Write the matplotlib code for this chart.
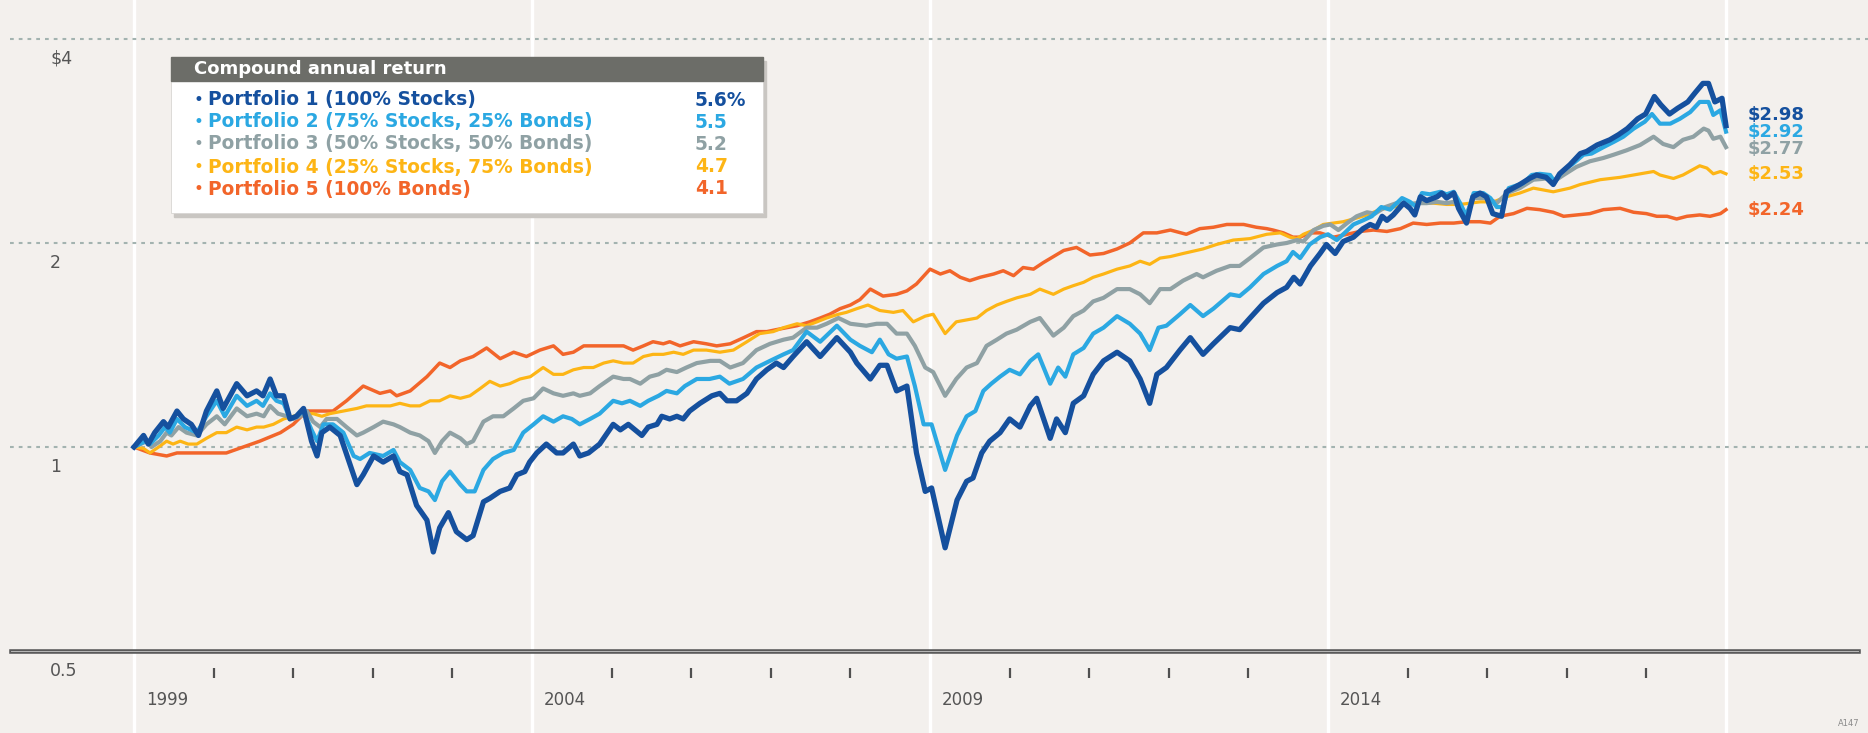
import matplotlib
matplotlib.use("Agg")
import matplotlib.pyplot as plt
from matplotlib.patches import Rectangle

# valores (crescimento de $1, fim de 1998 = 1.00)
p1_years = [1999.00, 1999.12, 1999.18, 1999.26, 1999.37, 1999.43, 1999.54, 1999.62, 1999.72, 1999.81,
            1999.91, 2000.04, 2000.12, 2000.29, 2000.42, 2000.54, 2000.62, 2000.71, 2000.79, 2000.88,
            2000.96, 2001.04, 2001.13, 2001.23, 2001.30, 2001.36, 2001.46, 2001.59, 2001.69, 2001.80,
            2001.88, 2002.01, 2002.13, 2002.26, 2002.34, 2002.43, 2002.55, 2002.68, 2002.76, 2002.84,
            2002.95, 2003.05, 2003.18, 2003.26, 2003.39, 2003.47, 2003.60, 2003.72, 2003.81, 2003.91,
            2003.97, 2004.06, 2004.18, 2004.31, 2004.39, 2004.52, 2004.60, 2004.71, 2004.85, 2005.02,
            2005.11, 2005.21, 2005.38, 2005.46, 2005.57, 2005.63, 2005.73, 2005.82, 2005.90, 2005.98,
            2006.11, 2006.26, 2006.36, 2006.45, 2006.57, 2006.70, 2006.82, 2006.95, 2007.07, 2007.16,
            2007.28, 2007.45, 2007.62, 2007.83, 2008.00, 2008.08, 2008.25, 2008.37, 2008.46, 2008.58,
            2008.71, 2008.83, 2008.94, 2009.02, 2009.19, 2009.34, 2009.46, 2009.54, 2009.65, 2009.75,
            2009.88, 2010.00, 2010.13, 2010.26, 2010.34, 2010.51, 2010.59, 2010.70, 2010.80, 2010.93,
            2011.05, 2011.18, 2011.35, 2011.51, 2011.64, 2011.76, 2011.85, 2011.97, 2012.14, 2012.27,
            2012.43, 2012.56, 2012.77, 2012.89, 2013.02, 2013.19, 2013.36, 2013.48, 2013.57, 2013.65,
            2013.78, 2013.90, 2013.98, 2014.09, 2014.19, 2014.32, 2014.44, 2014.53, 2014.61, 2014.68,
            2014.74, 2014.82, 2014.95, 2015.03, 2015.09, 2015.16, 2015.24, 2015.37, 2015.43, 2015.49,
            2015.58, 2015.64, 2015.74, 2015.82, 2015.91, 2015.99, 2016.07, 2016.18, 2016.24, 2016.41,
            2016.53, 2016.62, 2016.74, 2016.83, 2016.91, 2017.04, 2017.17, 2017.25, 2017.38, 2017.54,
            2017.65, 2017.76, 2017.89, 2017.99, 2018.10, 2018.18, 2018.29, 2018.39, 2018.52, 2018.61,
            2018.71, 2018.78, 2018.86, 2018.95, 2019.00]
p1_values = [1.00, 1.04, 1.01, 1.05, 1.09, 1.07, 1.13, 1.10, 1.08, 1.04,
             1.13, 1.21, 1.14, 1.24, 1.19, 1.21, 1.19, 1.26, 1.19, 1.19,
             1.10, 1.11, 1.14, 1.02, 0.97, 1.05, 1.07, 1.04, 0.96, 0.88,
             0.91, 0.97, 0.95, 0.97, 0.92, 0.91, 0.82, 0.78, 0.70, 0.76,
             0.80, 0.75, 0.73, 0.74, 0.83, 0.84, 0.86, 0.87, 0.91, 0.92,
             0.95, 0.98, 1.01, 0.98, 0.98, 1.01, 0.97, 0.98, 1.01, 1.08,
             1.06, 1.08, 1.04, 1.07, 1.08, 1.11, 1.10, 1.11, 1.10, 1.13,
             1.16, 1.19, 1.20, 1.17, 1.17, 1.20, 1.26, 1.30, 1.33, 1.31,
             1.36, 1.43, 1.36, 1.45, 1.38, 1.33, 1.26, 1.32, 1.32, 1.21,
             1.23, 0.98, 0.86, 0.87, 0.71, 0.835, 0.89, 0.90, 0.98, 1.02,
             1.05, 1.10, 1.07, 1.15, 1.18, 1.03, 1.10, 1.05, 1.16, 1.19,
             1.28, 1.34, 1.38, 1.34, 1.26, 1.16, 1.28, 1.31, 1.39, 1.45,
             1.37, 1.42, 1.50, 1.49, 1.55, 1.63, 1.69, 1.72, 1.78, 1.74,
             1.85, 1.93, 1.99, 1.93, 2.01, 2.04, 2.10, 2.13, 2.11, 2.19,
             2.16, 2.20, 2.29, 2.25, 2.20, 2.34, 2.31, 2.34, 2.37, 2.33,
             2.37, 2.25, 2.14, 2.34, 2.37, 2.34, 2.21, 2.19, 2.38, 2.44,
             2.49, 2.52, 2.50, 2.44, 2.53, 2.61, 2.71, 2.73, 2.79, 2.84,
             2.89, 2.95, 3.05, 3.10, 3.29, 3.20, 3.10, 3.16, 3.23, 3.33,
             3.44, 3.44, 3.23, 3.27, 2.98]

p2_years = [1999.00, 1999.14, 1999.20, 1999.31, 1999.39, 1999.45, 1999.54, 1999.64, 1999.79, 1999.91,
            2000.04, 2000.14, 2000.29, 2000.42, 2000.54, 2000.62, 2000.71, 2000.79, 2000.88, 2000.96,
            2001.04, 2001.13, 2001.23, 2001.30, 2001.38, 2001.50, 2001.63, 2001.76, 2001.84, 2001.96,
            2002.13, 2002.26, 2002.34, 2002.47, 2002.59, 2002.70, 2002.78, 2002.87, 2002.97, 2003.10,
            2003.18, 2003.28, 2003.39, 2003.51, 2003.64, 2003.77, 2003.89, 2004.02, 2004.14, 2004.27,
            2004.39, 2004.50, 2004.60, 2004.73, 2004.85, 2005.02, 2005.13, 2005.23, 2005.36, 2005.46,
            2005.59, 2005.69, 2005.82, 2005.92, 2006.07, 2006.23, 2006.36, 2006.48, 2006.65, 2006.82,
            2006.99, 2007.16, 2007.28, 2007.45, 2007.62, 2007.83, 2008.00, 2008.12, 2008.27, 2008.37,
            2008.48, 2008.58, 2008.71, 2008.81, 2008.92, 2009.02, 2009.19, 2009.34, 2009.46, 2009.57,
            2009.67, 2009.77, 2009.88, 2010.00, 2010.13, 2010.26, 2010.36, 2010.51, 2010.61, 2010.70,
            2010.80, 2010.93, 2011.05, 2011.18, 2011.35, 2011.51, 2011.64, 2011.76, 2011.87, 2011.97,
            2012.14, 2012.27, 2012.43, 2012.56, 2012.77, 2012.89, 2013.02, 2013.19, 2013.36, 2013.48,
            2013.56, 2013.65, 2013.77, 2013.90, 2014.00, 2014.11, 2014.21, 2014.32, 2014.44, 2014.55,
            2014.67, 2014.78, 2014.93, 2015.03, 2015.11, 2015.18, 2015.28, 2015.41, 2015.49, 2015.58,
            2015.66, 2015.74, 2015.83, 2015.95, 2016.04, 2016.12, 2016.20, 2016.27, 2016.45, 2016.56,
            2016.66, 2016.79, 2016.85, 2016.94, 2017.08, 2017.21, 2017.31, 2017.46, 2017.59, 2017.71,
            2017.84, 2017.98, 2018.07, 2018.17, 2018.30, 2018.42, 2018.55, 2018.67, 2018.78, 2018.84,
            2018.93, 2019.00]
p2_values = [1.00, 1.02, 1.01, 1.04, 1.07, 1.05, 1.10, 1.07, 1.05, 1.11,
             1.17, 1.11, 1.19, 1.15, 1.17, 1.15, 1.20, 1.17, 1.16, 1.10,
             1.11, 1.13, 1.06, 1.02, 1.08, 1.08, 1.05, 0.97, 0.96, 0.98,
             0.97, 0.99, 0.95, 0.925, 0.87, 0.86, 0.835, 0.89, 0.92, 0.88,
             0.86, 0.86, 0.925, 0.96, 0.98, 0.99, 1.05, 1.08, 1.11, 1.09,
             1.11, 1.10, 1.08, 1.10, 1.12, 1.17, 1.16, 1.17, 1.15, 1.17,
             1.19, 1.21, 1.20, 1.23, 1.26, 1.26, 1.27, 1.24, 1.26, 1.31,
             1.34, 1.37, 1.39, 1.48, 1.43, 1.51, 1.44, 1.41, 1.38, 1.44,
             1.37, 1.35, 1.36, 1.23, 1.08, 1.08, 0.925, 1.04, 1.11, 1.13,
             1.21, 1.24, 1.27, 1.30, 1.28, 1.34, 1.37, 1.24, 1.31, 1.27,
             1.37, 1.40, 1.47, 1.50, 1.56, 1.52, 1.47, 1.39, 1.50, 1.51,
             1.57, 1.62, 1.56, 1.60, 1.68, 1.67, 1.72, 1.80, 1.85, 1.88,
             1.94, 1.90, 1.99, 2.04, 2.06, 2.02, 2.07, 2.13, 2.16, 2.19,
             2.26, 2.24, 2.33, 2.30, 2.26, 2.37, 2.36, 2.38, 2.36, 2.38,
             2.29, 2.19, 2.37, 2.37, 2.33, 2.26, 2.26, 2.41, 2.45, 2.52,
             2.53, 2.52, 2.46, 2.55, 2.62, 2.70, 2.71, 2.77, 2.82, 2.87,
             2.95, 3.02, 3.10, 3.00, 3.00, 3.05, 3.12, 3.23, 3.23, 3.09,
             3.14, 2.92]

p3_years = [1999.00, 1999.16, 1999.22, 1999.33, 1999.41, 1999.47, 1999.56, 1999.66, 1999.79, 1999.91,
            2000.04, 2000.14, 2000.29, 2000.42, 2000.54, 2000.63, 2000.71, 2000.81, 2000.92, 2001.00,
            2001.09, 2001.17, 2001.25, 2001.34, 2001.42, 2001.55, 2001.67, 2001.80, 2001.88, 2002.01,
            2002.13, 2002.26, 2002.34, 2002.47, 2002.59, 2002.70, 2002.78, 2002.87, 2002.97, 2003.10,
            2003.18, 2003.26, 2003.39, 2003.51, 2003.64, 2003.77, 2003.89, 2004.02, 2004.14, 2004.27,
            2004.39, 2004.52, 2004.60, 2004.73, 2004.85, 2005.02, 2005.15, 2005.23, 2005.36, 2005.48,
            2005.59, 2005.69, 2005.82, 2005.94, 2006.07, 2006.24, 2006.36, 2006.49, 2006.65, 2006.82,
            2006.99, 2007.16, 2007.28, 2007.45, 2007.58, 2007.70, 2007.85, 2008.00, 2008.20, 2008.33,
            2008.46, 2008.58, 2008.71, 2008.81, 2008.94, 2009.04, 2009.19, 2009.33, 2009.46, 2009.59,
            2009.71, 2009.84, 2009.96, 2010.09, 2010.26, 2010.38, 2010.55, 2010.68, 2010.80, 2010.93,
            2011.05, 2011.18, 2011.35, 2011.51, 2011.64, 2011.76, 2011.89, 2012.02, 2012.18, 2012.35,
            2012.43, 2012.60, 2012.77, 2012.89, 2013.02, 2013.19, 2013.36, 2013.48, 2013.61, 2013.69,
            2013.82, 2013.94, 2014.03, 2014.13, 2014.24, 2014.36, 2014.49, 2014.59, 2014.72, 2014.86,
            2014.99, 2015.11, 2015.24, 2015.37, 2015.49, 2015.58, 2015.66, 2015.74, 2015.83, 2016.00,
            2016.12, 2016.25, 2016.41, 2016.58, 2016.75, 2016.87, 2016.96, 2017.12, 2017.29, 2017.46,
            2017.59, 2017.75, 2017.92, 2018.09, 2018.21, 2018.34, 2018.46, 2018.59, 2018.72, 2018.78,
            2018.84, 2018.93, 2019.00]
p3_values = [1.00, 1.02, 1.00, 1.02, 1.05, 1.04, 1.07, 1.05, 1.04, 1.08,
             1.11, 1.08, 1.14, 1.11, 1.12, 1.11, 1.15, 1.12, 1.11, 1.10,
             1.11, 1.13, 1.09, 1.07, 1.10, 1.10, 1.07, 1.04, 1.05, 1.07,
             1.09, 1.08, 1.07, 1.05, 1.04, 1.02, 0.98, 1.02, 1.05, 1.03,
             1.01, 1.02, 1.09, 1.11, 1.11, 1.14, 1.17, 1.18, 1.22, 1.20,
             1.19, 1.20, 1.19, 1.20, 1.23, 1.27, 1.26, 1.26, 1.24, 1.27,
             1.28, 1.30, 1.29, 1.31, 1.33, 1.34, 1.34, 1.31, 1.33, 1.39,
             1.42, 1.44, 1.45, 1.50, 1.50, 1.52, 1.55, 1.52, 1.51, 1.52,
             1.52, 1.47, 1.47, 1.41, 1.31, 1.29, 1.19, 1.26, 1.31, 1.33,
             1.41, 1.44, 1.47, 1.49, 1.53, 1.55, 1.46, 1.50, 1.56, 1.59,
             1.64, 1.66, 1.71, 1.71, 1.68, 1.63, 1.71, 1.71, 1.76, 1.80,
             1.78, 1.82, 1.85, 1.85, 1.90, 1.97, 1.99, 2.00, 2.02, 2.01,
             2.09, 2.12, 2.13, 2.09, 2.14, 2.19, 2.22, 2.21, 2.26, 2.29,
             2.28, 2.29, 2.29, 2.30, 2.29, 2.30, 2.25, 2.21, 2.33, 2.33,
             2.29, 2.37, 2.41, 2.48, 2.49, 2.48, 2.52, 2.59, 2.64, 2.67,
             2.70, 2.74, 2.79, 2.87, 2.80, 2.77, 2.84, 2.87, 2.95, 2.93,
             2.85, 2.87, 2.77]

p4_years = [1999.00, 1999.12, 1999.20, 1999.31, 1999.41, 1999.49, 1999.58, 1999.68, 1999.79, 1999.91,
            2000.04, 2000.16, 2000.29, 2000.42, 2000.54, 2000.63, 2000.75, 2000.88, 2001.00, 2001.13,
            2001.25, 2001.36, 2001.46, 2001.63, 2001.80, 2001.92, 2002.05, 2002.22, 2002.34, 2002.47,
            2002.59, 2002.72, 2002.84, 2002.97, 2003.10, 2003.22, 2003.35, 2003.47, 2003.60, 2003.72,
            2003.85, 2003.98, 2004.14, 2004.27, 2004.39, 2004.52, 2004.65, 2004.77, 2004.90, 2005.02,
            2005.15, 2005.27, 2005.40, 2005.52, 2005.65, 2005.78, 2005.90, 2006.03, 2006.19, 2006.36,
            2006.53, 2006.70, 2006.86, 2007.03, 2007.16, 2007.33, 2007.45, 2007.58, 2007.70, 2007.85,
            2007.95, 2008.08, 2008.22, 2008.37, 2008.54, 2008.66, 2008.79, 2008.94, 2009.04, 2009.19,
            2009.33, 2009.46, 2009.59, 2009.71, 2009.84, 2009.96, 2010.09, 2010.26, 2010.38, 2010.55,
            2010.68, 2010.80, 2010.93, 2011.05, 2011.18, 2011.35, 2011.51, 2011.64, 2011.76, 2011.89,
            2012.02, 2012.18, 2012.35, 2012.43, 2012.60, 2012.81, 2013.02, 2013.23, 2013.40, 2013.52,
            2013.61, 2013.69, 2013.82, 2013.94, 2014.07, 2014.19, 2014.32, 2014.49, 2014.65, 2014.82,
            2014.99, 2015.16, 2015.32, 2015.49, 2015.66, 2015.91, 2016.08, 2016.24, 2016.41, 2016.58,
            2016.75, 2016.83, 2017.04, 2017.17, 2017.42, 2017.67, 2017.92, 2018.09, 2018.17, 2018.34,
            2018.46, 2018.67, 2018.76, 2018.84, 2018.93, 2019.00]
p4_values = [1.00, 0.995, 0.98, 1.00, 1.02, 1.01, 1.02, 1.01, 1.01, 1.03,
             1.05, 1.05, 1.07, 1.06, 1.07, 1.07, 1.08, 1.10, 1.11, 1.12,
             1.12, 1.11, 1.12, 1.13, 1.14, 1.15, 1.15, 1.15, 1.16, 1.15,
             1.15, 1.17, 1.17, 1.19, 1.18, 1.19, 1.22, 1.25, 1.23, 1.24,
             1.26, 1.27, 1.31, 1.28, 1.28, 1.30, 1.31, 1.31, 1.33, 1.34,
             1.33, 1.33, 1.36, 1.37, 1.37, 1.38, 1.37, 1.39, 1.39, 1.38,
             1.39, 1.43, 1.47, 1.48, 1.50, 1.52, 1.51, 1.53, 1.55, 1.57,
             1.58, 1.60, 1.62, 1.59, 1.58, 1.59, 1.53, 1.56, 1.57, 1.47,
             1.53, 1.54, 1.55, 1.59, 1.62, 1.64, 1.66, 1.68, 1.71, 1.68,
             1.71, 1.73, 1.75, 1.78, 1.80, 1.83, 1.85, 1.88, 1.86, 1.90,
             1.91, 1.93, 1.95, 1.96, 1.99, 2.02, 2.03, 2.06, 2.07, 2.04,
             2.03, 2.06, 2.09, 2.13, 2.14, 2.15, 2.17, 2.20, 2.24, 2.26,
             2.28, 2.29, 2.29, 2.28, 2.28, 2.30, 2.30, 2.34, 2.37, 2.41,
             2.39, 2.38, 2.41, 2.44, 2.48, 2.50, 2.53, 2.55, 2.52, 2.49,
             2.52, 2.60, 2.58, 2.53, 2.55, 2.53]

p5_years = [1999.00, 1999.20, 1999.41, 1999.54, 1999.75, 1999.96, 2000.16, 2000.37, 2000.58, 2000.84,
            2001.00, 2001.17, 2001.34, 2001.50, 2001.67, 2001.88, 2002.09, 2002.22, 2002.30, 2002.47,
            2002.68, 2002.84, 2002.97, 2003.10, 2003.26, 2003.43, 2003.60, 2003.77, 2003.93, 2004.10,
            2004.27, 2004.39, 2004.52, 2004.65, 2004.85, 2005.02, 2005.15, 2005.27, 2005.40, 2005.52,
            2005.65, 2005.73, 2005.86, 2006.03, 2006.19, 2006.32, 2006.49, 2006.66, 2006.82, 2006.95,
            2007.07, 2007.20, 2007.33, 2007.49, 2007.62, 2007.74, 2007.87, 2008.00, 2008.12, 2008.25,
            2008.41, 2008.58, 2008.71, 2008.83, 2009.00, 2009.13, 2009.25, 2009.38, 2009.50, 2009.63,
            2009.80, 2009.92, 2010.05, 2010.17, 2010.30, 2010.42, 2010.55, 2010.68, 2010.84, 2011.01,
            2011.18, 2011.35, 2011.51, 2011.68, 2011.85, 2012.02, 2012.22, 2012.39, 2012.56, 2012.73,
            2012.94, 2013.10, 2013.23, 2013.31, 2013.44, 2013.56, 2013.65, 2013.77, 2013.90, 2014.07,
            2014.24, 2014.40, 2014.57, 2014.74, 2014.91, 2015.07, 2015.24, 2015.41, 2015.58, 2015.74,
            2015.91, 2016.04, 2016.16, 2016.33, 2016.50, 2016.66, 2016.83, 2016.96, 2017.12, 2017.29,
            2017.46, 2017.67, 2017.84, 2018.00, 2018.13, 2018.26, 2018.38, 2018.51, 2018.67, 2018.80,
            2018.93, 2019.00]
p5_values = [1.00, 0.98, 0.97, 0.98, 0.98, 0.98, 0.98, 1.00, 1.02, 1.05,
             1.08, 1.13, 1.13, 1.13, 1.17, 1.23, 1.20, 1.21, 1.19, 1.21,
             1.27, 1.33, 1.31, 1.34, 1.36, 1.40, 1.35, 1.38, 1.36, 1.39,
             1.41, 1.37, 1.38, 1.41, 1.41, 1.41, 1.41, 1.39, 1.41, 1.43,
             1.42, 1.43, 1.41, 1.43, 1.42, 1.41, 1.42, 1.45, 1.48, 1.48,
             1.49, 1.50, 1.51, 1.53, 1.55, 1.57, 1.60, 1.62, 1.65, 1.71,
             1.67, 1.68, 1.70, 1.74, 1.83, 1.80, 1.82, 1.78, 1.76, 1.78,
             1.80, 1.82, 1.79, 1.84, 1.83, 1.87, 1.91, 1.95, 1.97, 1.92,
             1.93, 1.96, 2.00, 2.07, 2.07, 2.09, 2.06, 2.10, 2.11, 2.13,
             2.13, 2.11, 2.10, 2.09, 2.07, 2.04, 2.04, 2.07, 2.07, 2.04,
             2.06, 2.08, 2.09, 2.08, 2.10, 2.14, 2.13, 2.14, 2.14, 2.15,
             2.15, 2.14, 2.19, 2.21, 2.25, 2.24, 2.22, 2.19, 2.20, 2.21,
             2.24, 2.25, 2.22, 2.21, 2.19, 2.19, 2.17, 2.19, 2.20, 2.19,
             2.21, 2.24]

names = ["Portfolio 1 (100% Stocks)",
         "Portfolio 2 (75% Stocks, 25% Bonds)",
         "Portfolio 3 (50% Stocks, 50% Bonds)",
         "Portfolio 4 (25% Stocks, 75% Bonds)",
         "Portfolio 5 (100% Bonds)"]
rates = ["5.6%", "5.5", "5.2", "4.7", "4.1"]
colors = ["#15509e", "#2ba8e2", "#8fa1a4", "#fdb515", "#f2652a"]
widths = [3.8, 3.0, 3.0, 2.3, 2.5]

year_labels = [1999, 2004, 2009, 2014]
grid_years = [1999, 2004, 2009, 2014, 2019]
minor_years = [2000, 2001, 2002, 2003, 2005, 2006, 2007, 2008,
               2010, 2011, 2012, 2013, 2015, 2016, 2017, 2018]
y_ticks = [4, 2, 1, 0.5]
y_labels = ["$4", "2", "1", "0.5"]

series = [(p1_years, p1_values), (p2_years, p2_values), (p3_years, p3_values),
          (p4_years, p4_values), (p5_years, p5_values)]

# geometria (pixels da figura)
W, H = 1868, 733
X0PX, PXYR = 134, 79.6      # x do ano 1999, pixels por ano
Y1PX, PXOCT = 447, 204      # y do valor 1, pixels por dobra

def px2yr(px):
    return 1999 + (px - X0PX) / PXYR

def px2val(py):
    return 2 ** ((Y1PX - py) / PXOCT)

bg = "#f3f0ed"
fig = plt.figure(figsize=(W / 100, H / 100), dpi=100)
fig.patch.set_facecolor(bg)
ax = fig.add_axes([0, 0, 1, 1])
ax.set_yscale("log", base=2)
ax.set_xlim(px2yr(0), px2yr(W))
ax.set_ylim(px2val(H), px2val(0))
ax.set_axis_off()

# grades
for yr in grid_years:
    ax.axvline(yr, color="white", lw=2.4, zorder=1)
for v in y_ticks[:-1]:
    ax.axhline(v, xmin=10 / W, xmax=1, color="#a3b3b0", lw=1.5, ls=(0, (1.8, 2.4)), zorder=1.5)
ax.axhline(0.5, xmin=11 / W, xmax=1858 / W, color="#5a5a5a", lw=3.3, zorder=2)
ax.axhline(0.5, xmin=11 / W, xmax=1858 / W, color="#b8b8b8", lw=0.7, zorder=2.1)

# marcas dos anos
ax.plot(minor_years, [px2val(673)] * len(minor_years), ls="none", marker="|",
        ms=7.5, mew=1.6, color="#505050", clip_on=False)
for yr in year_labels:
    ax.text(yr + 12 / PXYR, px2val(700), str(yr), ha="left", va="center",
            fontsize=12, color="#555555")
for v, lab in zip(y_ticks, y_labels):
    ax.text(px2yr(50), v * 2 ** (-20 / PXOCT), lab, ha="left", va="center",
            fontsize=12.5, color="#555555")

# linhas
for i in range(4, -1, -1):
    xs, ys = series[i]
    ax.plot(xs, ys, color=colors[i], lw=widths[i], solid_joinstyle="round", zorder=3 + (5 - i))

# rotulos finais
label_dy = [8, 0, -1.5, 0, 0]
for i, (xs, ys) in enumerate(series):
    ax.annotate("$%.2f" % ys[-1], xy=(xs[-1], ys[-1]), xytext=(15.5, label_dy[i]),
                textcoords="offset points", ha="left", va="center",
                fontsize=13, fontweight="bold", color=colors[i], zorder=10)

# caixa da legenda
def fx(px):
    return px / W

def fy(py):
    return 1 - py / H

bx0, bx1, by0, by1 = 171, 763, 57, 213
fig.patches.append(Rectangle((fx(bx0 + 3), fy(by1 + 4)), fx(bx1 - bx0), (by1 - by0) / H,
                             transform=fig.transFigure, color="#c9c6c2", zorder=5))
fig.patches.append(Rectangle((fx(bx0), fy(by1)), fx(bx1 - bx0), (by1 - by0) / H,
                             transform=fig.transFigure, facecolor="white",
                             edgecolor="#d8d6d3", lw=0.6, zorder=6))
fig.patches.append(Rectangle((fx(bx0), fy(81)), fx(bx1 - bx0), (81 - by0) / H,
                             transform=fig.transFigure, color="#6c6d68", zorder=7))
fig.text(fx(194), fy(69), "Compound annual return", color="white", fontsize=13,
         fontweight="bold", ha="left", va="center", zorder=8)
row_y = [100, 122, 144, 167, 189]
for i in range(5):
    fig.text(fx(194), fy(row_y[i]), "\u2022", color=colors[i], fontsize=12,
             ha="left", va="center", zorder=8)
    fig.text(fx(208), fy(row_y[i]), names[i], color=colors[i], fontsize=13.4,
             fontweight="bold", ha="left", va="center", zorder=8)
    fig.text(fx(695), fy(row_y[i]), rates[i], color=colors[i], fontsize=13.4,
             fontweight="bold", ha="left", va="center", zorder=8)

fig.text(fx(1849), fy(723), "A147", color="#8a8a8a", fontsize=6, ha="center", va="center")

fig.savefig("out.png", dpi=100, facecolor=bg)
